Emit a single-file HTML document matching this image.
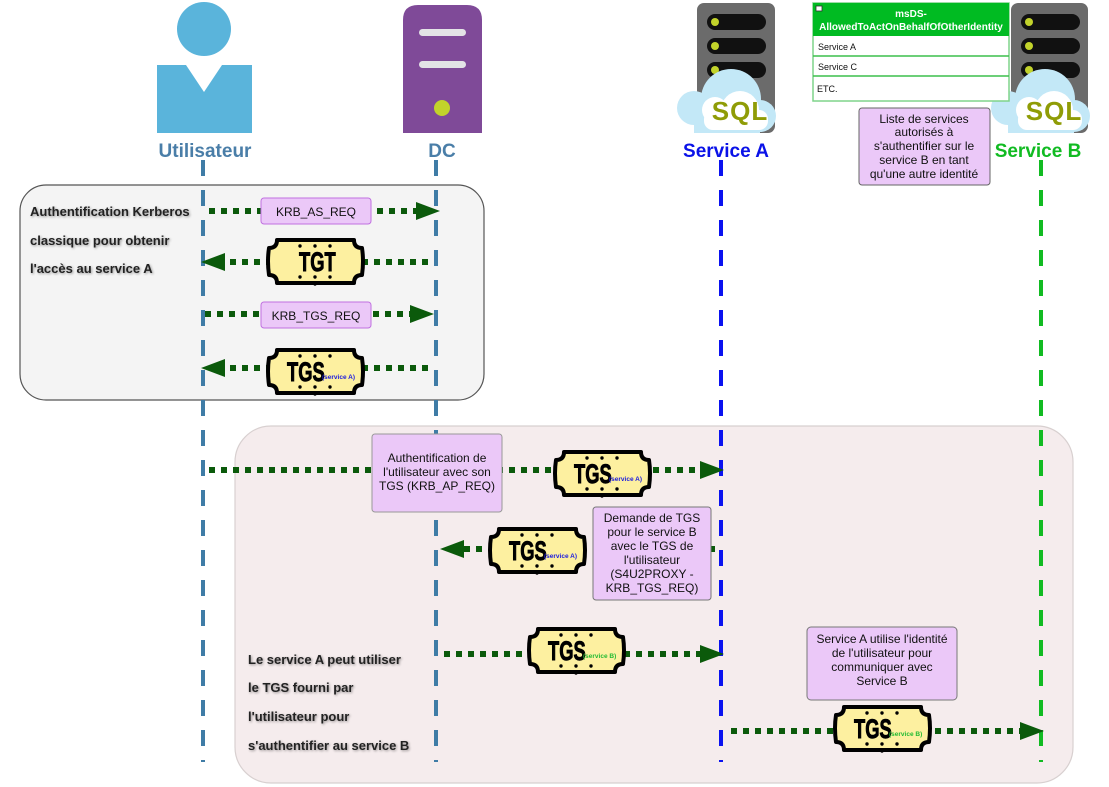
<!DOCTYPE html>
<html><head><meta charset="utf-8"><style>
html,body{margin:0;padding:0;background:#fff;}
svg{display:block;font-family:"Liberation Sans",sans-serif;}
.lbl{font-size:12px;fill:#111;}
.bt{font-size:13px;font-weight:bold;fill:#222;}
.tg{font-family:"Liberation Sans",sans-serif;font-size:27px;font-weight:bold;fill:#000;stroke:#000;stroke-width:0.9;}
.sub{font-family:"Liberation Sans",sans-serif;font-size:6.5px;font-weight:bold;}
</style></head><body>
<svg width="1109" height="787" viewBox="0 0 1109 787" xmlns="http://www.w3.org/2000/svg">
<defs>
<filter id="sh" x="-5%" y="-30%" width="110%" height="160%"><feGaussianBlur in="SourceAlpha" stdDeviation="1.2"/><feOffset dx="1" dy="1"/><feComponentTransfer><feFuncA type="linear" slope="0.4"/></feComponentTransfer><feMerge><feMergeNode/><feMergeNode in="SourceGraphic"/></feMerge></filter>
<g id="tk">
<path d="M10,2 H87 Q87,10 95,10 Q97,23 95,37 Q87,37 87,45 H10 Q10,37 2,37 Q0,23 2,10 Q10,10 10,2 Z" fill="#fdf0a0" stroke="#000" stroke-width="4" stroke-linejoin="round"/>
<circle cx="33" cy="8" r="1.7"/><circle cx="48" cy="8" r="1.7"/><circle cx="63" cy="8" r="1.7"/>
<circle cx="33" cy="39" r="1.7"/><circle cx="48" cy="39" r="1.7"/><circle cx="63" cy="39" r="1.7"/><circle cx="48" cy="46" r="1.7"/>
</g>
</defs>

<rect x="20" y="185" width="464" height="215" rx="26" fill="#f4f4f4" stroke="#555" stroke-width="1.2"/>
<rect x="235" y="426" width="838" height="357" rx="36" fill="#f5eced" stroke="#d8d0d0" stroke-width="1.2"/>

<circle cx="204" cy="29" r="27" fill="#5ab4db"/>
<path d="M157,65 H186 L204,92 L222,65 H252 V133 H157 Z" fill="#5ab4db"/>
<text x="205" y="157" text-anchor="middle" font-size="19" font-weight="bold" fill="#4a7ea8">Utilisateur</text>

<path d="M403,133 V20 Q403,5 418,5 H467 Q482,5 482,20 V133 Z" fill="#7f4a98"/>
<rect x="419" y="29" width="47" height="7" rx="3.5" fill="#e3e3e6"/>
<rect x="419" y="61" width="47" height="7" rx="3.5" fill="#e3e3e6"/>
<circle cx="442" cy="108" r="8" fill="#c2d32b"/>
<text x="442" y="157" text-anchor="middle" font-size="19" font-weight="bold" fill="#4a7ea8">DC</text>

<rect x="697" y="3" width="78" height="130" rx="7" fill="#6b6b6b"/>
<rect x="707" y="14" width="59" height="16" rx="8" fill="#111"/><circle cx="715" cy="22" r="4" fill="#c2d32b"/>
<rect x="707" y="38" width="59" height="16" rx="8" fill="#111"/><circle cx="715" cy="46" r="4" fill="#c2d32b"/>
<rect x="707" y="62" width="59" height="16" rx="8" fill="#111"/><circle cx="715" cy="70" r="4" fill="#c2d32b"/>
<g fill="#c3e8f7"><circle cx="694" cy="108" r="17"/><circle cx="731" cy="99" r="30"/><circle cx="760" cy="116" r="16"/><rect x="694" y="108" width="66" height="25"/></g>
<g fill="#fff"><circle cx="715" cy="110" r="13"/><circle cx="740" cy="110" r="19"/><rect x="704" y="110" width="64" height="20" rx="9"/></g>
<text x="740" y="120" text-anchor="middle" font-weight="bold" font-size="26" letter-spacing="1" fill="#8f9c06">SQL</text>
<text x="726" y="157" text-anchor="middle" font-size="19" font-weight="bold" fill="#0a12e8">Service A</text>

<rect x="1011" y="3" width="77" height="130" rx="7" fill="#6b6b6b"/>
<rect x="1021" y="14" width="59" height="16" rx="8" fill="#111"/><circle cx="1029" cy="22" r="4" fill="#c2d32b"/>
<rect x="1021" y="38" width="59" height="16" rx="8" fill="#111"/><circle cx="1029" cy="46" r="4" fill="#c2d32b"/>
<rect x="1021" y="62" width="59" height="16" rx="8" fill="#111"/><circle cx="1029" cy="70" r="4" fill="#c2d32b"/>
<g fill="#c3e8f7"><circle cx="1008" cy="108" r="17"/><circle cx="1045" cy="99" r="30"/><circle cx="1074" cy="116" r="16"/><rect x="1008" y="108" width="66" height="25"/></g>
<g fill="#fff"><circle cx="1029" cy="110" r="13"/><circle cx="1054" cy="110" r="19"/><rect x="1018" y="110" width="64" height="20" rx="9"/></g>
<text x="1054" y="120" text-anchor="middle" font-weight="bold" font-size="26" letter-spacing="1" fill="#8f9c06">SQL</text>
<text x="1038" y="157" text-anchor="middle" font-size="19" font-weight="bold" fill="#11bb22">Service B</text>

<rect x="813" y="3" width="196" height="98" fill="#fff" stroke="#7fd48a" stroke-width="1.5"/>
<rect x="813" y="3" width="196" height="33" fill="#00bb22"/>
<rect x="816" y="6" width="6" height="5" fill="#fff" stroke="#333" stroke-width="0.8"/>
<text x="911" y="17" text-anchor="middle" font-size="10" font-weight="bold" fill="#fff">msDS-</text>
<text x="911" y="30" text-anchor="middle" font-size="10" font-weight="bold" fill="#fff">AllowedToActOnBehalfOfOtherIdentity</text>
<line x1="813" y1="56" x2="1009" y2="56" stroke="#3bbf4c" stroke-width="1.5"/>
<line x1="813" y1="76" x2="1009" y2="76" stroke="#3bbf4c" stroke-width="1.5"/>
<text x="818" y="50" font-size="9" fill="#111">Service A</text>
<text x="818" y="70" font-size="9" fill="#111">Service C</text>
<text x="817" y="92" font-size="9" fill="#111">ETC.</text>

<rect x="859" y="108" width="131" height="77" rx="3" fill="#ebc8f8" stroke="#666" stroke-width="1"/>
<g class="lbl" text-anchor="middle" font-size="11.5"><text x="924" y="123">Liste de services</text><text x="924" y="136">autorisés à</text><text x="924" y="150">s'authentifier sur le</text><text x="924" y="164">service B en tant</text><text x="924" y="178">qu'une autre identité</text></g>

<line x1="203" y1="160" x2="203" y2="762" stroke="#3f7ca6" stroke-width="4" stroke-dasharray="16 14"/>
<line x1="436" y1="160" x2="436" y2="762" stroke="#3f7ca6" stroke-width="4" stroke-dasharray="16 14"/>
<line x1="721" y1="160" x2="721" y2="762" stroke="#0a12f0" stroke-width="4" stroke-dasharray="16 14"/>
<line x1="1041" y1="160" x2="1041" y2="762" stroke="#11bb22" stroke-width="4" stroke-dasharray="16 14"/>

<g stroke="#0b5a0b" stroke-width="6" stroke-dasharray="6 6" fill="none">
<line x1="209" y1="211" x2="418" y2="211"/>
<line x1="428" y1="262" x2="222" y2="262"/>
<line x1="205" y1="314" x2="414" y2="314"/>
<line x1="428" y1="368" x2="222" y2="368"/>
<line x1="209" y1="470" x2="703" y2="470"/>
<line x1="715" y1="549" x2="700" y2="549"/>
<line x1="482" y1="549" x2="462" y2="549"/>
<line x1="444" y1="654" x2="703" y2="654"/>
<line x1="731" y1="731" x2="1022" y2="731"/>
</g>
<g fill="#0b5a0b">
<path d="M440,211 L416,202 L416,220 Z"/>
<path d="M201,262 L225,253 L225,271 Z"/>
<path d="M434,314 L410,305 L410,323 Z"/>
<path d="M201,368 L225,359 L225,377 Z"/>
<path d="M724,470 L700,461 L700,479 Z"/>
<path d="M440,549 L464,540 L464,558 Z"/>
<path d="M724,654 L700,645 L700,663 Z"/>
<path d="M1044,731 L1020,722 L1020,740 Z"/>
</g>

<rect x="261" y="198" width="110" height="26" rx="3" fill="#ebc8f8" stroke="#c070e0"/>
<text x="316" y="216" text-anchor="middle" class="lbl">KRB_AS_REQ</text>
<rect x="261" y="302" width="110" height="26" rx="3" fill="#ebc8f8" stroke="#c070e0"/>
<text x="316" y="320" text-anchor="middle" class="lbl">KRB_TGS_REQ</text>

<rect x="372" y="434" width="130" height="78" rx="3" fill="#ebc8f8" stroke="#999"/>
<g class="lbl" text-anchor="middle" font-size="11.5"><text x="437" y="462">Authentification de</text><text x="437" y="476">l'utilisateur avec son</text><text x="437" y="490">TGS (KRB_AP_REQ)</text></g>

<rect x="593" y="507" width="118" height="93" rx="3" fill="#ebc8f8" stroke="#777"/>
<g class="lbl" text-anchor="middle" font-size="11.5"><text x="652" y="522">Demande de TGS</text><text x="652" y="536">pour le service B</text><text x="652" y="550">avec le TGS de</text><text x="652" y="564">l'utilisateur</text><text x="652" y="578">(S4U2PROXY -</text><text x="652" y="592">KRB_TGS_REQ)</text></g>

<rect x="807" y="627" width="150" height="73" rx="4" fill="#ebc8f8" stroke="#777"/>
<g class="lbl" text-anchor="middle" font-size="11.5"><text x="882" y="643">Service A utilise l'identité</text><text x="882" y="657">de l'utilisateur pour</text><text x="882" y="671">communiquer avec</text><text x="882" y="685">Service B</text></g>

<g transform="translate(267,238)"><use href="#tk"/><text class="tg" x="0" y="33" transform="translate(32,0) scale(0.68,1)">TGT</text></g>
<g transform="translate(267,348)"><use href="#tk"/><text class="tg" x="0" y="33" transform="translate(20,0) scale(0.68,1)">TGS</text><text class="sub" x="55" y="31" fill="#1a1ae0">(service A)</text></g>
<g transform="translate(554,450)"><use href="#tk"/><text class="tg" x="0" y="33" transform="translate(20,0) scale(0.68,1)">TGS</text><text class="sub" x="55" y="31" fill="#1a1ae0">(service A)</text></g>
<g transform="translate(489,527)"><use href="#tk"/><text class="tg" x="0" y="33" transform="translate(20,0) scale(0.68,1)">TGS</text><text class="sub" x="55" y="31" fill="#1a1ae0">(service A)</text></g>
<g transform="translate(528,627)"><use href="#tk"/><text class="tg" x="0" y="33" transform="translate(20,0) scale(0.68,1)">TGS</text><text class="sub" x="55" y="31" fill="#22bb33">(service B)</text></g>
<g transform="translate(834,705)"><use href="#tk"/><text class="tg" x="0" y="33" transform="translate(20,0) scale(0.68,1)">TGS</text><text class="sub" x="55" y="31" fill="#22bb33">(service B)</text></g>

<g class="bt" filter="url(#sh)">
<text x="30" y="216">Authentification Kerberos</text>
<text x="30" y="245">classique pour obtenir</text>
<text x="30" y="273">l'accès au service A</text>
<text x="248" y="664">Le service A peut utiliser</text>
<text x="248" y="692">le TGS fourni par</text>
<text x="248" y="721">l'utilisateur pour</text>
<text x="248" y="750">s'authentifier au service B</text>
</g>
</svg>
</body></html>
